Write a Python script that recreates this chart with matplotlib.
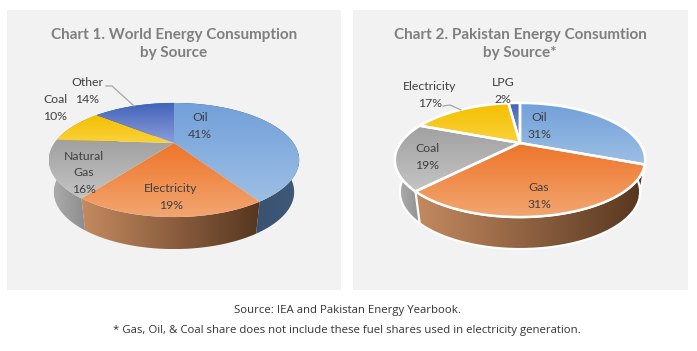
import numpy as np
import matplotlib
matplotlib.use("Agg")
import matplotlib.pyplot as plt
from matplotlib.colors import LinearSegmentedColormap
from matplotlib.patches import Polygon, Rectangle

# data
labels_1 = ["Oil", "Electricity", "Natural\nGas", "Coal", "Other"]
values_1 = [41, 19, 16, 10, 14]
labels_2 = ["Oil", "Gas", "Coal", "Electricity", "LPG"]
values_2 = [31, 31, 19, 17, 2]

title_1 = "Chart 1. World Energy Consumption\nby Source"
title_2 = "Chart 2. Pakistan Energy Consumtion\nby Source*"
source_text = "Source: IEA and Pakistan Energy Yearbook."
note_text = "* Gas, Oil, & Coal share does not include these fuel shares used in electricity generation."

# top gradient (far -> near) and side gradient (left -> right)
blue = (("#72a0da", "#9dbfe4"), ("#2f4560", "#40597a"))
orange = (("#ee7428", "#f2a672"), ("#c48a60", "#56361f"))
gray = (("#a0a0a0", "#c4c4c4"), ("#b0b0b0", "#8c8c8c"))
yellow = (("#f5bf00", "#f9d23c"), ("#b08a10", "#b08a10"))
navy = (("#4062b8", "#8d9ddb"), ("#34508f", "#34508f"))

colors_1 = [blue, orange, gray, yellow, navy]
colors_2 = [blue, orange, gray, yellow, navy]

# pie seen in perspective
K = 0.298
RX = 119.5
RY = 52
DEPTH = 32
BOTTOM_SCALE = 0.96


def project(theta, cx, cy, drop=0, scale=1.0):
    u = np.sin(theta)
    v = np.cos(theta)
    w = 1 + K * v
    return cx + scale * RX * u / w, cy - RY * v / w + drop


def gradient_fill(ax, pts, c0, c1, horizontal, zorder):
    cmap = LinearSegmentedColormap.from_list("g", [c0, c1])
    patch = Polygon(pts, closed=True, facecolor="none", edgecolor="none", zorder=zorder)
    ax.add_patch(patch)
    g = np.linspace(0, 1, 256)
    g = g.reshape(1, -1) if horizontal else g.reshape(-1, 1)
    x0, x1 = pts[:, 0].min(), pts[:, 0].max()
    y0, y1 = pts[:, 1].min(), pts[:, 1].max()
    im = ax.imshow(g, cmap=cmap, extent=(x0, x1, y1, y0), origin="upper",
                   aspect="auto", zorder=zorder, interpolation="bilinear")
    im.set_clip_path(patch)


def draw_pie(ax, values, colors, cx, cy, edge):
    cum = np.concatenate([[0], np.cumsum(values)]) / sum(values) * 2 * np.pi
    # side walls first, top faces cover what is hidden
    for i in range(len(values)):
        t = np.linspace(cum[i], cum[i + 1], 80)
        tx, ty = project(t, cx, cy)
        bx, by = project(t, cx, cy, DEPTH, BOTTOM_SCALE)
        pts = np.column_stack([np.concatenate([tx, bx[::-1]]), np.concatenate([ty, by[::-1]])])
        gradient_fill(ax, pts, colors[i][1][0], colors[i][1][1], True, 2)
        if edge:
            ax.plot(pts[:, 0], pts[:, 1], color="white", lw=1.6, zorder=3)
    for i in range(len(values)):
        t = np.linspace(cum[i], cum[i + 1], 80)
        tx, ty = project(t, cx, cy)
        pts = np.column_stack([np.concatenate([[cx], tx]), np.concatenate([[cy], ty])])
        gradient_fill(ax, pts, colors[i][0][0], colors[i][0][1], False, 4)
        if edge:
            ax.add_patch(Polygon(pts, closed=True, facecolor="none", edgecolor="white", lw=1.8, zorder=5))


fig = plt.figure(figsize=(6.97, 3.51), dpi=100, facecolor="white")
ax = fig.add_axes([0, 0, 1, 1])

ax.add_patch(Rectangle((7, 10), 334, 280, facecolor="#f3f2f2", edgecolor="none", zorder=1))
ax.add_patch(Rectangle((353, 10), 335, 280, facecolor="#f3f2f2", edgecolor="none", zorder=1))

draw_pie(ax, values_1, colors_1, 174, 143, False)
draw_pie(ax, values_2, colors_2, 520, 143, True)

ax.set_xlim(0, 697)
ax.set_ylim(351, 0)
ax.axis("off")

title_font = dict(family="Lato", fontsize=11, fontweight="bold", color="#7f7f7f",
                  ha="center", va="center", linespacing=1.45, zorder=8)
ax.text(174, 44, title_1, **title_font)
ax.text(520, 44, title_2, **title_font)

label_font = dict(family="Lato", fontsize=8.8, color="#404040", ha="center", va="center",
                  linespacing=1.6, zorder=8)
pos_1 = [(200, 126), (171, 197), (84, 173), (55, 108), (87, 91)]
for name, val, (x, y) in zip(labels_1, values_1, pos_1):
    ax.text(x, y, f"{name}\n{val}%", **label_font)
pos_2 = [(539, 126), (539, 196), (427, 157), (430, 95), (503, 91)]
for name, val, (x, y) in zip(labels_2, values_2, pos_2):
    ax.text(x, y, f"{name}\n{val}%", **label_font)

# leader lines
ax.plot([106, 112, 134], [86, 86, 106], color="#a6a6a6", lw=0.9, zorder=8)
ax.plot([443, 450, 461], [106, 105, 110], color="#a6a6a6", lw=0.9, zorder=8)

foot_font = dict(family="Open Sans", fontsize=8.2, color="#333333", ha="center", va="center")
ax.text(347, 311, source_text, **foot_font)
ax.text(347, 330, note_text, **foot_font)

fig.savefig("out.png", dpi=100)
